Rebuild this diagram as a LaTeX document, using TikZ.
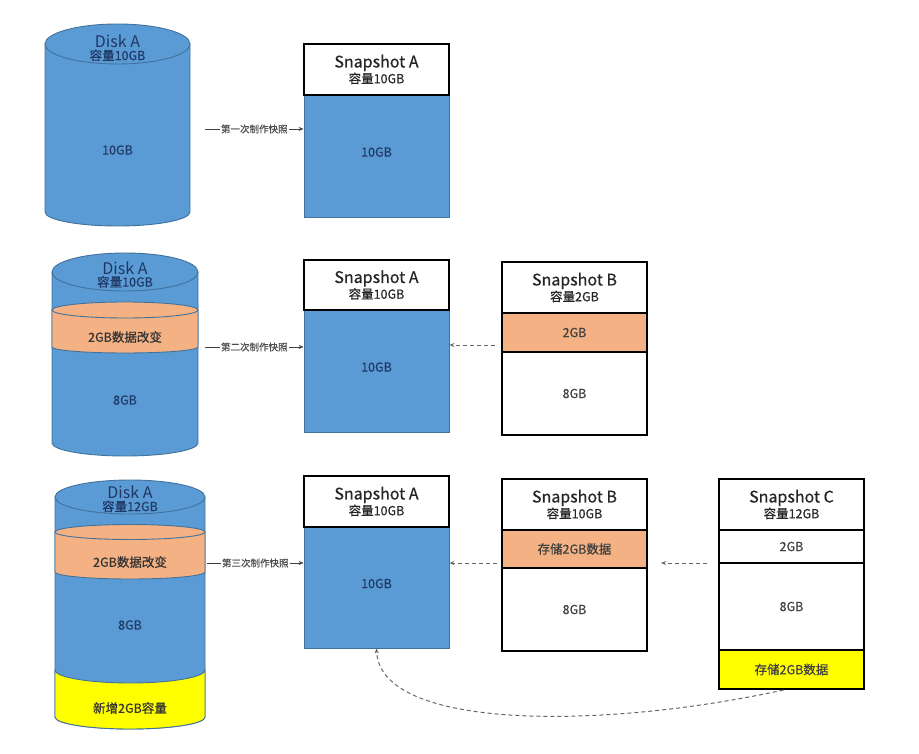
\documentclass[tikz,border=0pt]{standalone}
\usepackage{fontspec}
\setmainfont{Noto Sans CJK SC}
\newfontfamily\semib{Noto Sans CJK SC}[FakeBold=0.6]
\usetikzlibrary{arrows.meta}

\definecolor{diskblue}{HTML}{5B9BD5}
\definecolor{diskline}{HTML}{41719C}
\definecolor{chgorange}{HTML}{F4B183}
\definecolor{newyellow}{HTML}{FFFF00}
\definecolor{navytext}{HTML}{1F3864}
\definecolor{graytext}{HTML}{404040}

\newcommand{\snaphead}[2]{{\fontsize{16}{18}\selectfont #1}\\[0.5pt]{\semib\fontsize{12.5}{14}\selectfont #2}}

\begin{document}
\begin{tikzpicture}[x=1pt, y=-1pt,
    disk/.style={draw=diskline, line width=0.9pt, fill=diskblue},
    disktitle/.style={align=center, text=navytext, inner sep=0pt},
    disktext/.style={text=navytext, inner sep=0pt, font=\semib\fontsize{12.5}{14}\selectfont},
    cell/.style={draw=black, line width=2pt, minimum width=145pt, inner sep=0pt, text=graytext, font=\semib\fontsize{12.5}{14}\selectfont},
    hdr/.style={cell, fill=white, align=center, text=black!85},
    bluecell/.style={cell, draw=diskline, line width=0.8pt, fill=diskblue, text=navytext},
    lbl/.style={fill=white, inner sep=1pt, text=black!70, font=\semib\fontsize{9.5}{11}\selectfont},
    arr/.style={-{Stealth[length=5pt,width=4pt]}, line width=0.7pt, black!75},
    darr/.style={arr, dash pattern=on 4pt off 3pt, black!60, line width=1pt}]

    \useasboundingbox (0,0) rectangle (919,754);

    % Disk A, first snapshot
    \path[disk] (45,44) -- (45,212) arc[start angle=180, end angle=0, x radius=72.5, y radius=14] -- (190,44) -- cycle;
    \path[disk] (117.5,44) ellipse [x radius=72.5, y radius=20];
    \node[disktitle] (d1t) at (117.5,48) {\snaphead{Disk A}{容量10GB}};
    \node[disktext] (d1m) at (117.5,150) {10GB};

    % Snapshot A
    \node[bluecell, minimum height=122pt] (sa1b) at (376.5,156) {\raisebox{8pt}{10GB}};
    \node[hdr, minimum height=51pt] (sa1h) at (376.5,69.5) {\snaphead{Snapshot A}{容量10GB}};

    \coordinate (s1) at (205,129);
    \draw[arr] (s1) -- node[lbl] (l1) {第一次制作快照} (s1 -| sa1b.west);

    % Disk A, second snapshot
    \path[disk] (52,272) -- (52,443) arc[start angle=180, end angle=0, x radius=73, y radius=13] -- (198,272) -- cycle;
    \path[disk, fill=chgorange] (52,310) -- (52,347) arc[start angle=180, end angle=0, x radius=73, y radius=6] -- (198,310) -- cycle;
    \path[disk, fill=chgorange] (125,310) ellipse [x radius=73, y radius=8];
    \path[disk] (125,272) ellipse [x radius=73, y radius=19];
    \node[disktitle] (d2t) at (125,274.5) {\snaphead{Disk A}{容量10GB}};
    \node[disktext, text=black!80] (d2c) at (125,337) {2GB数据改变};
    \node[disktext] (d2m) at (125,400) {8GB};

    % Snapshot A and B
    \node[bluecell, minimum height=122pt] (sa2b) at (376.5,371) {\raisebox{8pt}{10GB}};
    \node[hdr, minimum height=50pt] (sa2h) at (376.5,285) {\snaphead{Snapshot A}{容量10GB}};
    \node[cell, fill=white, minimum height=83pt] (sb2w) at (574.5,393.5) {8GB};
    \node[cell, fill=chgorange, minimum height=39pt] (sb2o) at (574.5,332.5) {2GB};
    \node[hdr, minimum height=51pt] (sb2h) at (574.5,287.5) {\snaphead{Snapshot B}{容量2GB}};

    \coordinate (s2) at (205,347);
    \draw[arr] (s2) -- node[lbl] (l2) {第二次制作快照} (s2 -| sa2b.west);
    \coordinate (t2) at (495,345);
    \draw[darr] (t2) -- (t2 -| sa2b.east);

    % Disk A, third snapshot
    \path[disk] (55,497) -- (55,717) arc[start angle=180, end angle=0, x radius=75, y radius=12] -- (205,497) -- cycle;
    \path[disk, fill=newyellow] (55,670) -- (55,717) arc[start angle=180, end angle=0, x radius=75, y radius=12] -- (205,670) arc[start angle=0, end angle=180, x radius=75, y radius=13] -- cycle;
    \path[disk, fill=chgorange] (55,532) -- (55,572) arc[start angle=180, end angle=0, x radius=75, y radius=7] -- (205,532) -- cycle;
    \path[disk, fill=chgorange] (130,532) ellipse [x radius=75, y radius=7.5];
    \path[disk] (130,497) ellipse [x radius=75, y radius=17];
    \node[disktitle] (d3t) at (130,499) {\snaphead{Disk A}{容量12GB}};
    \node[disktext, text=black!80] (d3c) at (130,562) {2GB数据改变};
    \node[disktext] (d3m) at (130,625) {8GB};
    \node[disktext, text=black!80] (d3n) at (130,708) {新增2GB容量};

    % Snapshot A, B and C
    \node[bluecell, minimum height=121pt] (sa3b) at (376.5,587.5) {\raisebox{8pt}{10GB}};
    \node[hdr, minimum height=51pt] (sa3h) at (376.5,501.5) {\snaphead{Snapshot A}{容量10GB}};
    \node[cell, fill=white, minimum height=83pt] (sb3w) at (574.5,609.5) {8GB};
    \node[cell, fill=chgorange, minimum height=38pt] (sb3o) at (574.5,549) {存储2GB数据};
    \node[hdr, minimum height=51pt] (sb3h) at (574.5,504.5) {\snaphead{Snapshot B}{容量10GB}};
    \node[cell, fill=newyellow, minimum height=39pt] (sc3y) at (791.5,669.5) {存储2GB数据};
    \node[cell, fill=white, minimum height=87pt] (sc3w) at (791.5,606.5) {8GB};
    \node[cell, fill=white, minimum height=33pt] (sc3a) at (791.5,546.5) {2GB};
    \node[hdr, minimum height=51pt] (sc3h) at (791.5,504.5) {\snaphead{Snapshot C}{容量12GB}};

    \coordinate (s3) at (207,563);
    \draw[arr] (s3) -- node[lbl] (l3) {第三次制作快照} (s3 -| sa3b.west);
    \coordinate (t3) at (497,563);
    \draw[darr] (t3) -- (t3 -| sa3b.east);
    \coordinate (u3) at (707,563);
    \draw[darr, shorten >=13pt] (u3) -- (u3 -| sb3h.east);
    \draw[darr] ([xshift=-8pt]sc3y.south) .. controls (600,730) and (380,730) .. (sa3b.south);
\end{tikzpicture}
\end{document}
